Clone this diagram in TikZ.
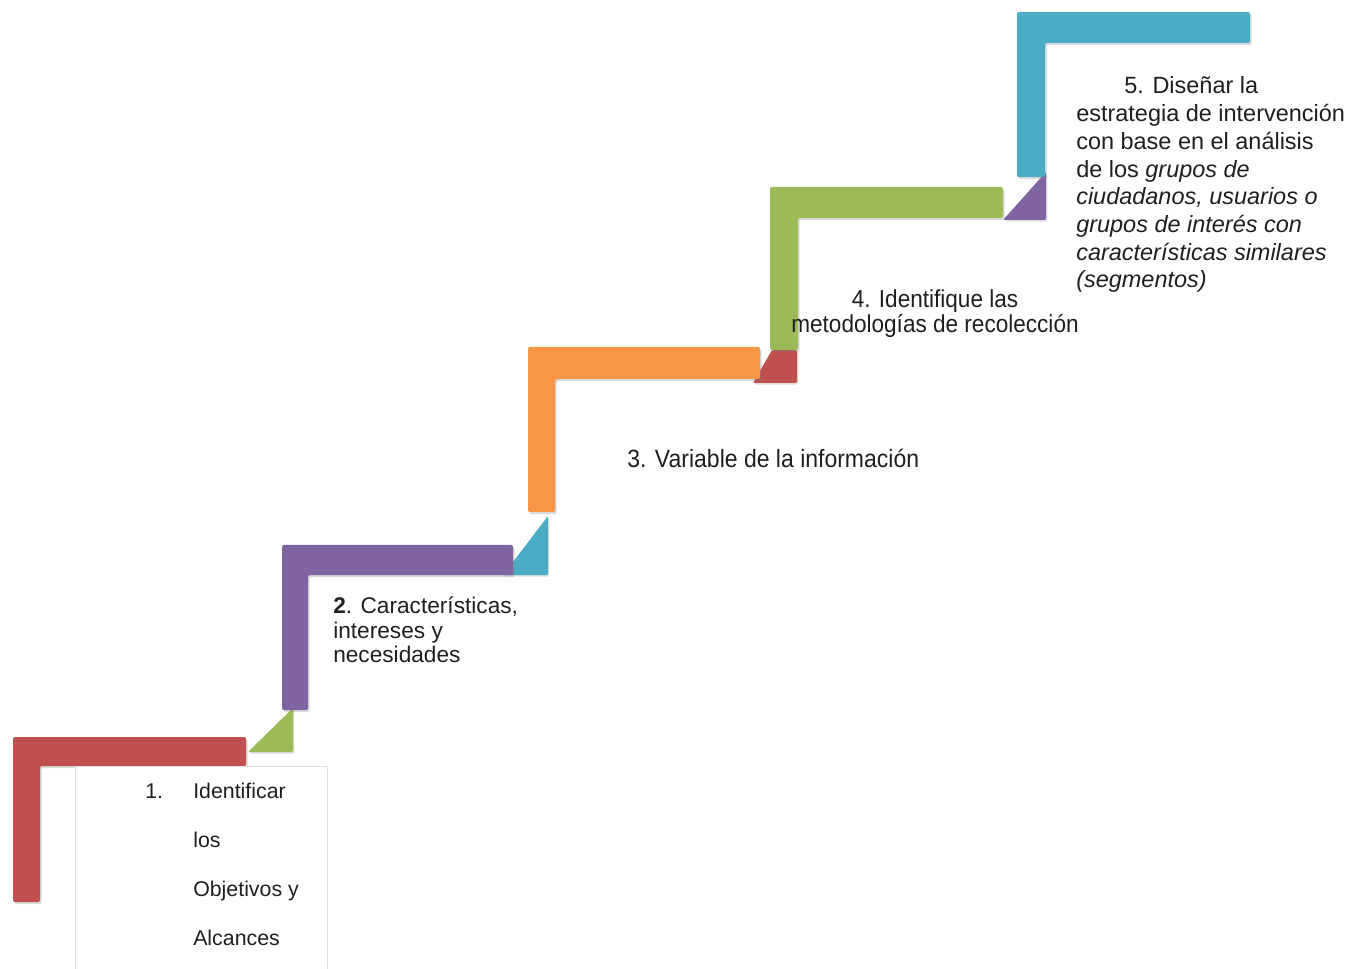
\documentclass[tikz,border=0pt]{standalone}
\usepackage{fontspec}
\setmainfont{Liberation Sans}
\newfontfamily\narrowsans[FakeStretch=0.92]{Liberation Sans}
\usetikzlibrary{
    shadows,
    positioning
}
\definecolor{stepred}{HTML}{C0504D}
\definecolor{stepgreen}{HTML}{9BBB59}
\definecolor{steppurple}{HTML}{8064A2}
\definecolor{steporange}{HTML}{F79646}
\definecolor{stepblue}{HTML}{4BACC6}
\tikzset{
    stepbar/.style={rounded corners=1.5pt, drop shadow={shadow xshift=1.2pt, shadow yshift=-1.6pt, opacity=0.3}},
    steptab/.style={rounded corners=1pt, drop shadow={shadow xshift=1pt, shadow yshift=-1.2pt, opacity=0.25}},
    steptext/.style={inner sep=0pt, anchor=base west, align=left, text=black!88}
}

\begin{document}
\begin{tikzpicture}[x=0.75pt, y=-0.75pt]
                        \useasboundingbox (0, 0) rectangle (1353, 969);
                        % small tabs behind the corners
                        \fill[stepgreen, steptab] (248, 752) -- (293, 752) -- (293, 708) -- cycle;
                        \fill[stepblue, steptab] (503, 575) -- (548, 575) -- (548, 516) -- cycle;
                        \fill[stepred, steptab] (753, 383) -- (797, 383) -- (797, 350) -- (772, 350) -- cycle;
                        \fill[steppurple, steptab] (1003, 220) -- (1046, 220) -- (1046, 172) -- cycle;
                        % the five steps
                        \begin{scope}[shift={(13, 737)}]
                            \fill[stepred, stepbar] (0, 0) -- (233, 0) -- (233, 29) -- (27, 29) -- (27, 165) -- (0, 165) -- cycle;
                        \end{scope}
                        \begin{scope}[shift={(282, 545)}]
                            \fill[steppurple, stepbar] (0, 0) -- (231, 0) -- (231, 30) -- (26, 30) -- (26, 165) -- (0, 165) -- cycle;
                        \end{scope}
                        \begin{scope}[shift={(528, 347)}]
                            \fill[steporange, stepbar] (0, 0) -- (232, 0) -- (232, 32) -- (27, 32) -- (27, 165) -- (0, 165) -- cycle;
                        \end{scope}
                        \begin{scope}[shift={(770, 187)}]
                            \fill[stepgreen, stepbar] (0, 0) -- (233, 0) -- (233, 31) -- (28, 31) -- (28, 163) -- (0, 163) -- cycle;
                        \end{scope}
                        \begin{scope}[shift={(1017, 12)}]
                            \fill[stepblue, stepbar] (0, 0) -- (233, 0) -- (233, 31) -- (28, 31) -- (28, 165) -- (0, 165) -- cycle;
                        \end{scope}
                        % box of the first step
                        \draw[black!12, fill=white, line width=0.6pt] (75, 766) rectangle (327, 990);
                        % texts, placed at the baseline of their last line
                        \node[steptext, font=\fontsize{16}{36.75}\selectfont] (objetivos) at (193, 945)
                            {\llap{\makebox[36pt][l]{1.}}Identificar\\los\\Objetivos y\\Alcances};
                        \node[steptext, font=\fontsize{17}{18}\selectfont] (caracteristicas) at (333, 662)
                            {\textbf{2}. Características,\\intereses y\\necesidades};
                        \node[steptext, font=\narrowsans\fontsize{18.75}{20}\selectfont] (variable) at (627, 468)
                            {3. Variable de la información};
                        \node[steptext, anchor=base, align=center, font=\narrowsans\fontsize{18.4}{18.75}\selectfont] (metodologias) at (935, 333)
                            {4. Identifique las\\metodologías de recolección};
                        \node[steptext, font=\fontsize{17.6}{20.8}\selectfont] (estrategia) at (1076, 288)
                            {\hspace*{36pt}5. Diseñar la\\estrategia de intervención\\con base en el análisis\\de los \textit{grupos de}\\\textit{ciudadanos, usuarios o}\\\textit{grupos de interés con}\\\textit{características similares}\\\textit{(segmentos)}};
                    \end{tikzpicture}
\end{document}
